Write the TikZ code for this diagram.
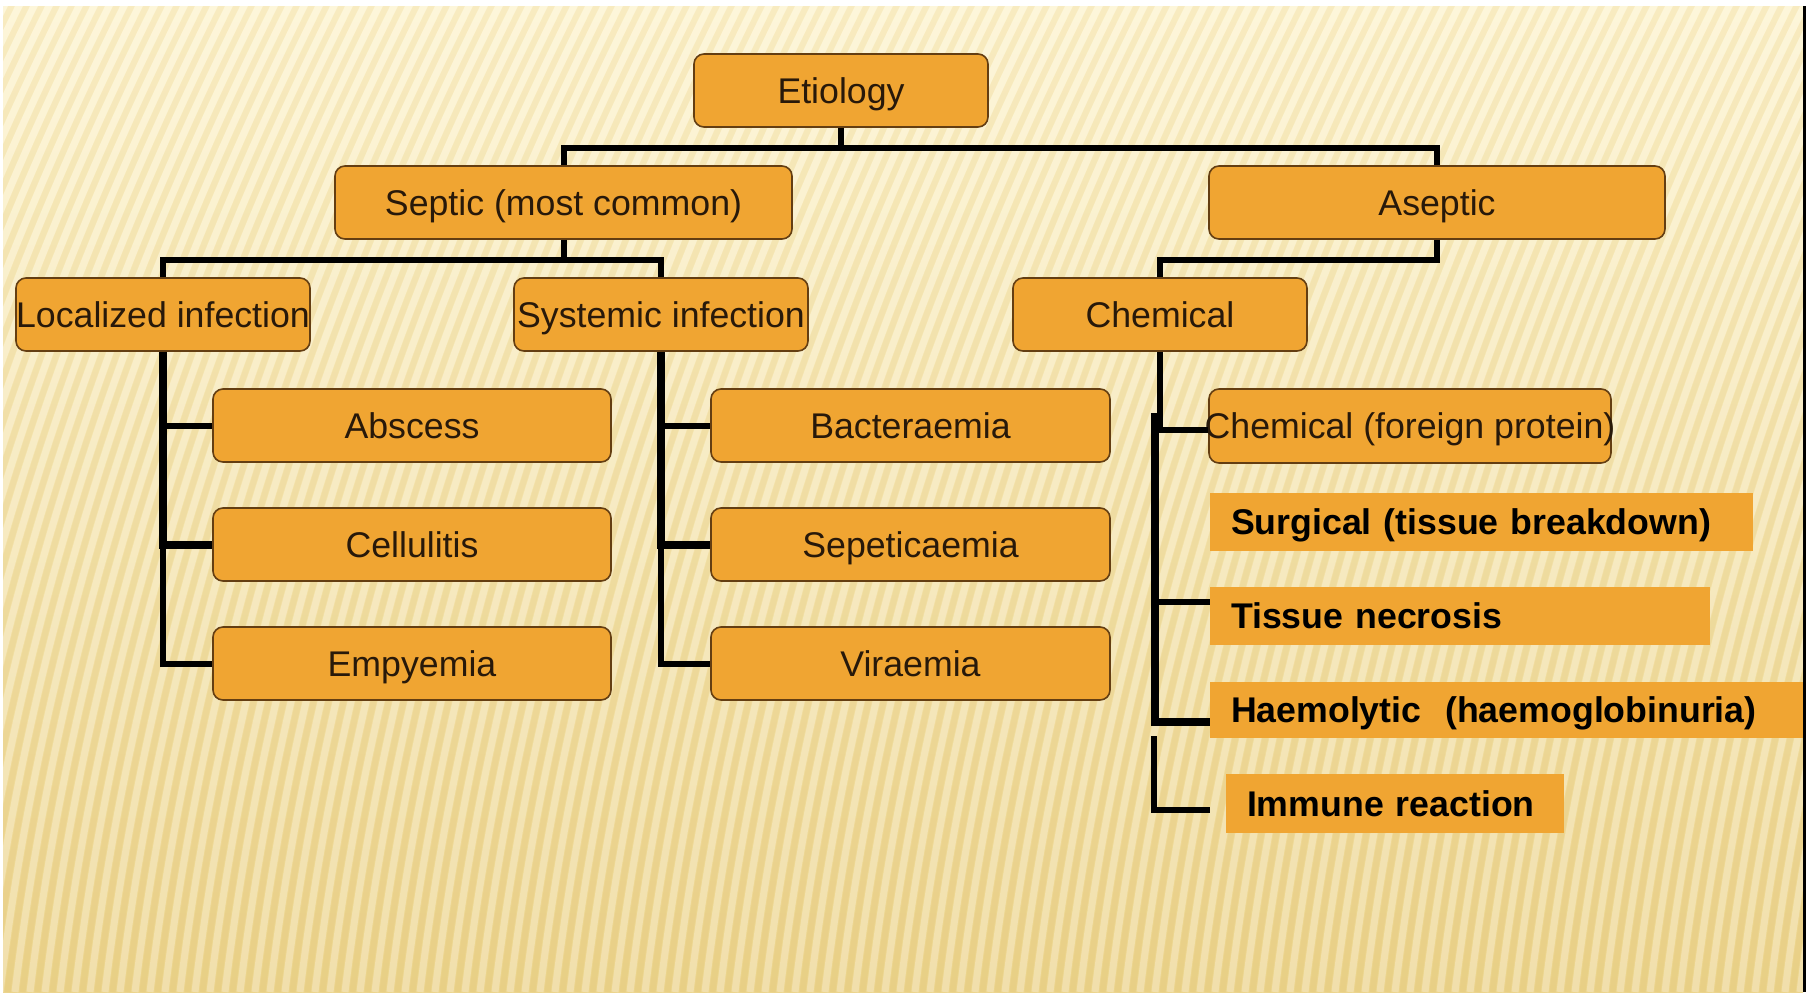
\documentclass[tikz,border=0pt]{standalone}
\usepackage{fontspec}
\setmainfont{Liberation Sans}
\definecolor{boxfill}{RGB}{240,165,50}
\definecolor{boxedge}{RGB}{100,62,18}
\definecolor{boxtext}{RGB}{40,25,10}
\definecolor{bgtop}{RGB}{253,243,204}
\definecolor{bgmid}{RGB}{249,232,178}
\definecolor{bgbot}{RGB}{236,212,140}
\definecolor{stripedark}{RGB}{190,150,60}
\begin{document}
\begin{tikzpicture}[x=0.5pt,y=-0.5pt,
  conn/.style={line width=3pt, draw=black},
  rbox/.style={draw=boxedge, line width=0.8pt, fill=boxfill, rounded corners=5pt,
    inner sep=0pt, text=boxtext, font=\fontsize{17.85}{20}\selectfont,
    text height=16pt, text depth=3.2pt, minimum height=36.5pt},
  pbox/.style={fill=boxfill, inner xsep=10.5pt, inner ysep=0pt, align=left,
    text=black, font=\bfseries\fontsize{17.85}{20}\selectfont,
    text height=16pt, text depth=3.2pt},
]
% page and slide background
\useasboundingbox (0,0) rectangle (1812,992);
\fill[white] (0,0) rectangle (1812,992);
\shade[top color=bgtop, middle color=bgmid, bottom color=bgbot] (3,6) rectangle (1803,992);
\begin{scope}
  \clip (3,6) rectangle (1803,992);
  \foreach \i in {-330,-315,...,1815} {
    \draw[white, opacity=0.28, line width=3.5pt]
      (\i,992) .. controls (\i+40,661) and (\i+142,331) .. (\i+307,0);
    \draw[stripedark, opacity=0.08, line width=3pt]
      (\i+7.5,992) .. controls (\i+47.5,661) and (\i+149.5,331) .. (\i+314.5,0);
  }
\end{scope}
\fill[black] (1803,6) rectangle (1806,992);

% hierarchy boxes
\node[rbox, minimum width=147pt]   (etio) at (841,90.5)    {Etiology};
\node[rbox, minimum width=228.5pt] (sept) at (563.5,202.5) {Septic (most common)};
\node[rbox, minimum width=228pt]   (asep) at (1437,202.5)  {Aseptic};
\node[rbox, minimum width=147pt]   (loc)  at (163,314.5)   {\makebox[147pt][c]{Localized infection}};
\node[rbox, minimum width=147pt]   (sys)  at (661,314.5)   {Systemic infection};
\node[rbox, minimum width=147pt]   (chem) at (1160,314.5)  {Chemical};
\node[rbox, minimum width=199pt]   (absc) at (412,425.5)   {Abscess};
\node[rbox, minimum width=199pt]   (cell) at (412,544.5)   {Cellulitis};
\node[rbox, minimum width=199pt]   (emp)  at (412,663.5)   {Empyemia};
\node[rbox, minimum width=199.5pt] (bact) at (910.5,425.5) {Bacteraemia};
\node[rbox, minimum width=199.5pt] (sepe) at (910.5,544.5) {Sepeticaemia};
\node[rbox, minimum width=199.5pt] (vira) at (910.5,663.5) {Viraemia};
\node[rbox, minimum width=201pt, minimum height=37pt] (cfp) at (1410,426)
  {\makebox[201pt][c]{Chemical (foreign protein)}};

% plain labelled bars
\node[pbox, text width=250.5pt, minimum height=29pt]   (surg) at (1481.5,522) {Surgical (tissue breakdown)};
\node[pbox, text width=229pt,   minimum height=29pt]   (tis)  at (1460,616)   {Tissue necrosis};
\node[pbox, text width=275.5pt, minimum height=28pt]   (haem) at (1506.5,710) {Haemolytic\ \ (haemoglobinuria)};
\node[pbox, text width=148pt,   minimum height=29.5pt] (imm)  at (1395,803.5) {Immune reaction};

% connectors
\draw[conn] (etio.south) -- ++(0,20) -| (sept.north);
\draw[conn] (etio.south) -- ++(0,20) -| (asep.north);
\draw[conn] (sept.south) -- ++(0,20) -| (loc.north);
\draw[conn] (sept.south) -- ++(0,20) -| (sys.north);
\draw[conn] (asep.south) -- ++(0,20) -| (chem.north);

\draw[conn] (loc.south) |- (absc.west);
\draw[conn, line width=4pt] (loc.south) |- (cell.west);
\draw[conn] (loc.south) |- (emp.west);
\draw[conn] (sys.south) |- (bact.west);
\draw[conn, line width=4pt] (sys.south) |- (sepe.west);
\draw[conn] (sys.south) |- (vira.west);

\coordinate (cv) at (1155,413);
\coordinate (cw) at (1154,736);
\coordinate (ie) at (1210,810);
\draw[conn] (chem.south) |- ([yshift=-2pt]cfp.west);
\draw[conn] (cv) |- ([yshift=7pt]tis.west);
\draw[conn, line width=4pt] (cv) |- ([yshift=-6pt]haem.west);
\draw[conn, line width=3.3pt] (cw) |- (ie);
\end{tikzpicture}
\end{document}
